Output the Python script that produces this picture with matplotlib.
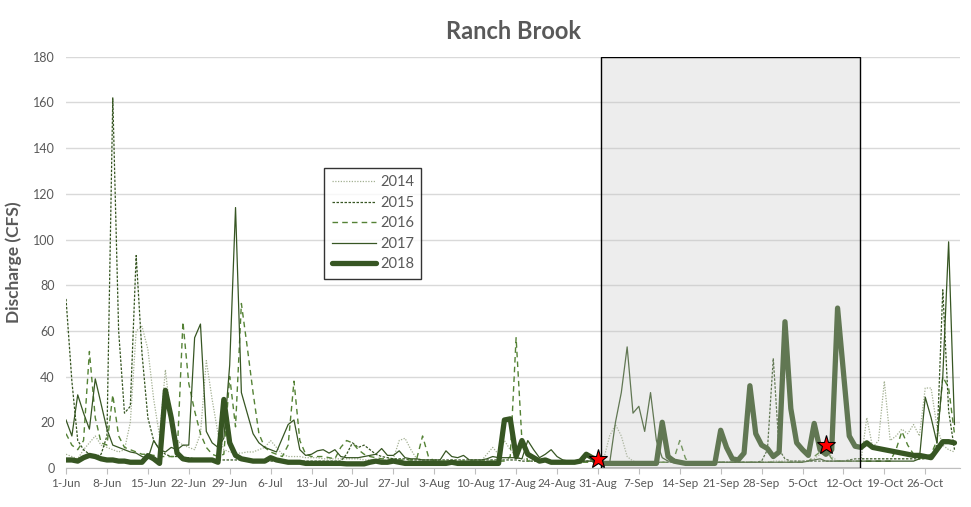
import datetime as dt
import matplotlib
matplotlib.use("Agg")
import matplotlib.pyplot as plt
from matplotlib.patches import Rectangle

plt.rcParams["font.family"] = ["Lato", "DejaVu Sans"]

# Daily discharge (CFS), 1-Jun .. 31-Oct, one row per week
q2014 = [6, 5, 4, 8, 11, 14, 10,
         9, 8, 7, 8, 20, 60, 62,
         52, 30, 14, 43, 20, 12, 10,
         9, 8, 15, 47, 30, 15, 8,
         7, 6.5, 6.5, 7, 7, 8, 9,
         12, 9, 6, 5, 5, 5, 4.5,
         4.5, 4.5, 4, 4, 4, 4, 4,
         4, 4, 3.5, 3.5, 3.5, 3.5, 3.5,
         4, 12, 13, 8, 4, 3.5, 3.5,
         3.5, 3, 3, 3, 3, 3, 3,
         3, 3, 6, 9, 6, 12, 8,
         5, 4, 3.5, 3, 3, 3, 3,
         3, 3, 3, 3, 3, 3, 3,
         2.5, 4, 14, 19, 14, 5, 3,
         2.5, 2.5, 2.5, 2.5, 2.5, 2.5, 2.5,
         2.5, 2.5, 2.5, 2.5, 2.5, 2.5, 2.5,
         2.5, 2.5, 2.5, 2.5, 2.5, 2.5, 2.5,
         2.5, 2.5, 3, 3, 3, 3, 3,
         3, 3, 4, 6, 8, 5, 3,
         3, 3, 3, 3, 22, 9, 12,
         38, 12, 14, 17, 15, 19, 14,
         35, 35, 18, 10, 8, 7]

q2015 = [74, 38, 12, 8, 6, 5, 6,
         14, 162, 60, 24, 27, 93, 50,
         22, 12, 8, 6, 5, 5, 4.5,
         4.5, 4, 4, 4, 3.5, 3.5, 3.5,
         3.5, 3.5, 3.5, 3.5, 3, 3, 3,
         3, 3, 3, 3, 3, 3, 3,
         3, 3, 3, 3, 3, 3, 6,
         11, 9, 10, 8, 6, 5, 4.5,
         4, 4, 4, 3.5, 3.5, 3.5, 3.5,
         3.5, 3.5, 3.5, 3.5, 3.5, 3.5, 3.5,
         3.5, 3.5, 3.5, 3.5, 3.5, 3.5, 3.5,
         3.5, 3, 3, 3, 3, 3, 3,
         3, 3, 3, 3, 3, 3, 3,
         2.5, 2.5, 2.5, 2.5, 2.5, 2.5, 2.5,
         2.5, 2.5, 2.5, 2.5, 2.5, 2.5, 2.5,
         2.5, 2.5, 2.5, 2.5, 2.5, 2.5, 2.5,
         2.5, 2.5, 2.5, 2.5, 2.5, 2.5, 2.5,
         3, 8, 48, 8, 4, 3, 3,
         3, 3, 3, 3, 3, 3, 3,
         3, 3.5, 4, 4, 4, 4, 4,
         4, 4, 4, 4, 4, 4, 4,
         4, 5, 10, 78, 25, 8]

q2016 = [15, 10, 8, 12, 51, 22, 11,
         10, 32, 14, 9, 8, 7, 6,
         6, 5.5, 5, 5, 5, 5, 64,
         37, 25, 15, 9, 6, 5, 6,
         40, 18, 72, 53, 33, 15, 9,
         7, 6, 5, 10, 38, 12, 6,
         5, 5, 5, 4.5, 4, 9, 12,
         11, 8, 6, 5, 4.5, 4, 4,
         3.5, 3.5, 3.5, 3.5, 4, 14, 5,
         3, 3, 3, 3, 3, 3, 3,
         3, 3, 3, 3, 3, 3, 5,
         57, 12, 3, 3, 3, 3, 2.5,
         2.5, 2.5, 2.5, 2.5, 2.5, 2.5, 2.5,
         2.5, 2.5, 2.5, 2.5, 2.5, 2.5, 2.5,
         2.5, 2.5, 2.5, 2.5, 2.5, 2.5, 4,
         12, 4, 2.5, 2.5, 2.5, 2.5, 2.5,
         2.5, 2.5, 2.5, 2.5, 2.5, 2.5, 2.5,
         2.5, 2.5, 2.5, 2.5, 2.5, 2.5, 2.5,
         2.5, 3, 5, 7, 8, 4, 3,
         3, 3, 3, 3, 3, 3, 3,
         3, 3, 8, 16, 10, 6, 4,
         5, 6, 12, 40, 35, 15]

q2017 = [21, 14, 32, 24, 17, 39, 28,
         17, 10, 9, 8, 7, 6.5, 5,
         4, 12, 8, 7, 9, 8, 10,
         10, 57, 63, 16, 11, 9, 13,
         45, 114, 33, 24, 15, 11, 9,
         8, 7, 13, 19, 21, 8, 5.5,
         6, 7.5, 8, 6.5, 8, 5, 4.5,
         4.5, 4.5, 5, 5.5, 6, 8.5, 5.5,
         5.5, 7.5, 4.5, 4, 4, 3.5, 3.5,
         3.5, 3.5, 7.5, 5, 4.5, 5.5, 3.5,
         3.5, 3.5, 4, 5, 4.5, 4.5, 4.5,
         4.5, 4, 12, 8, 4.5, 6, 8,
         5, 3.5, 3, 3, 3, 3, 3,
         2.5, 2, 2, 20, 33, 53, 24,
         27, 16, 33, 12, 4.5, 3, 3,
         2.5, 2.5, 2.5, 2.5, 2.5, 2.5, 2.5,
         2.5, 2.5, 2.5, 2.5, 2.5, 2.5, 2.5,
         2.5, 2.5, 2.5, 2.5, 2.5, 2.5, 2.5,
         2.5, 3, 3.5, 4, 3, 3, 3,
         3, 3, 3, 3, 3, 3, 3,
         3, 3, 3, 3, 3, 3, 4,
         31, 22, 11, 40, 99, 19]

q2018 = [3.5, 3.5, 3, 4.5, 5.5, 5, 4,
         3.5, 3.5, 3, 3, 2.5, 2.5, 2.5,
         5.4, 4, 2, 34, 22, 6.5, 4,
         3.5, 3.5, 3.5, 3.5, 3.5, 2.5, 30,
         11, 5.5, 4, 3.5, 3, 3, 3,
         4.5, 3.5, 3, 2.5, 2.5, 2.5, 2,
         2, 2, 2, 2, 2, 2, 1.8,
         1.8, 1.8, 1.8, 2.5, 3, 2.5, 2.5,
         3, 2.5, 2, 2, 2, 2, 2,
         2, 2, 2, 2.5, 2, 2, 2,
         2, 2, 2, 2, 2, 21, 21.5,
         5, 12, 6, 4.5, 3, 3.5, 2.5,
         2.5, 2.5, 2.5, 2.5, 3, 6, 4.5,
         3.5, 2, 2, 2, 2, 2, 2,
         2, 2, 2, 2, 20, 5, 3,
         2.5, 2, 2, 2, 2, 2, 2,
         16.5, 9, 4, 3.5, 6.5, 36, 15,
         10, 8.5, 5, 7, 64, 26, 11,
         8, 5.5, 19.5, 8, 6, 8, 70,
         42, 14, 9.5, 9, 11, 9, 8.5,
         8, 7.5, 7, 6.5, 6, 5.5, 5.5,
         5, 4.5, 8, 11.5, 11.5, 11]

years = ["2014", "2015", "2016", "2017", "2018"]
start = dt.date(2018, 6, 1)
tick_labels = [(start + dt.timedelta(days=d)).strftime("%-d-%b") for d in range(0, 148, 7)]

# sampling window and sample dates (days after 1-Jun)
window_start, window_end = 91.6, 135.8
star_days = [91, 130]
star_vals = [4, 10]

GREEN_DARK = "#375623"
GREEN_MID = "#548235"
GREY_TXT = "#595959"

styles = {
    "2014": dict(color="#a3b092", lw=0.9, ls=(0, (1, 1.2))),
    "2015": dict(color=GREEN_DARK, lw=0.9, ls=(0, (2, 1.2))),
    "2016": dict(color=GREEN_MID, lw=1.0, ls=(0, (4, 3))),
    "2017": dict(color=GREEN_DARK, lw=0.9, ls="-"),
    "2018": dict(color=GREEN_DARK, lw=3.8, ls="-", solid_capstyle="round",
                 solid_joinstyle="round"),
}

fig = plt.figure(figsize=(9.71, 5.07), dpi=100)
ax = fig.add_axes([0.068, 0.077, 0.921, 0.811])

for yr, q in zip(years, [q2014, q2015, q2016, q2017, q2018]):
    ax.plot(range(len(q)), q, label=yr, zorder=2, **styles[yr])

# shaded sampling window on top of lines
ax.add_patch(Rectangle((window_start, 0), window_end - window_start, 180,
                       facecolor="#c4c4c4", alpha=0.3, edgecolor="none", zorder=3))
ax.add_patch(Rectangle((window_start, 0), window_end - window_start, 180,
                       facecolor="none", edgecolor="black", lw=1.0, zorder=3))

ax.plot(star_days, star_vals, ls="none", marker="*", markersize=14,
        markerfacecolor="red", markeredgecolor="black", markeredgewidth=0.8, zorder=4)

ax.set_xlim(0, 153)
ax.set_ylim(0, 180)
ax.set_yticks(range(0, 181, 20))
ax.set_xticks(range(0, 148, 7))
ax.set_xticklabels(tick_labels)
ax.tick_params(axis="y", length=0, labelsize=9, labelcolor=GREY_TXT, pad=8)
ax.tick_params(axis="x", length=4, color="#bfbfbf", labelsize=8.5, labelcolor=GREY_TXT, pad=3)
ax.grid(axis="y", color="#d9d9d9", lw=1.0, zorder=0)
ax.set_axisbelow(True)
for s in ["top", "right", "left"]:
    ax.spines[s].set_visible(False)
ax.spines["bottom"].set_color("#bfbfbf")

ax.set_title("Ranch Brook", fontsize=17, fontweight="bold", color=GREY_TXT, pad=13)
ax.set_ylabel("Discharge (CFS)", fontsize=12.5, fontweight="bold", color=GREY_TXT, labelpad=8)

leg = ax.legend(loc="upper left", bbox_to_anchor=(0.289, 0.73), fontsize=10.5,
                handlelength=3.0, frameon=True, fancybox=False, borderpad=0.5,
                labelspacing=0.45, handletextpad=0.3, borderaxespad=0)
leg.get_frame().set_edgecolor("black")
leg.get_frame().set_linewidth(1.0)
leg.set_zorder(5)
for t in leg.get_texts():
    t.set_color(GREY_TXT)

fig.savefig("out.png", dpi=100)
